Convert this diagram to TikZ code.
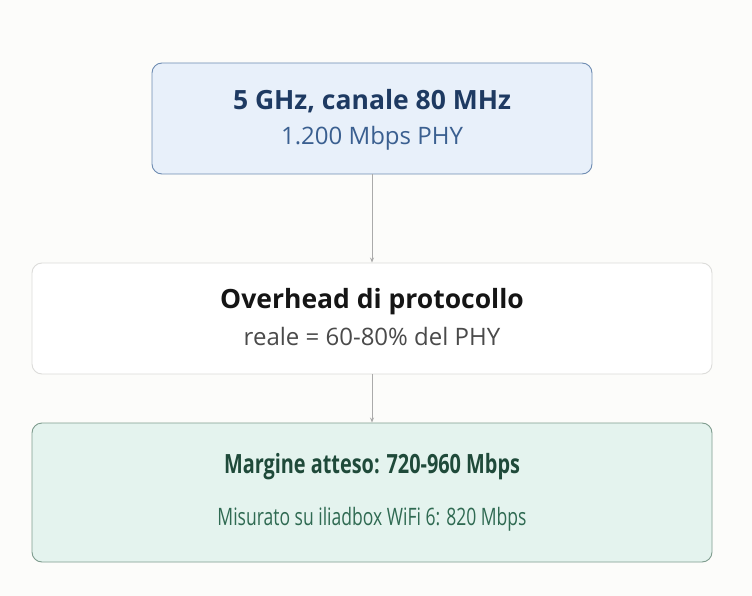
\documentclass[tikz,border=0pt]{standalone}
\usepackage{fontspec}
\setmainfont{Open Sans}
\newfontfamily\condfont[FakeStretch=0.75]{Open Sans}
\newfontfamily\condsubfont[FakeStretch=0.73]{Open Sans}
\usetikzlibrary{arrows.meta}
\definecolor{bg}{HTML}{FCFCFA}
\definecolor{bluefill}{HTML}{E8F0FA}
\definecolor{blueline}{HTML}{6E8CB2}
\definecolor{bluetitle}{HTML}{1E3A62}
\definecolor{bluesub}{HTML}{3A5F90}
\definecolor{grayline}{HTML}{DCDCDA}
\definecolor{graytitle}{HTML}{151515}
\definecolor{graysub}{HTML}{4A4A4A}
\definecolor{greenfill}{HTML}{E4F3EE}
\definecolor{greenline}{HTML}{7E9C8E}
\definecolor{greentitle}{HTML}{1F4A3A}
\definecolor{greensub}{HTML}{2F6A52}
\definecolor{arrowc}{HTML}{AAAAAA}
\tikzset{
  boxstyle/.style={draw, rounded corners=10pt, line width=0.9pt, inner sep=0pt},
  titletext/.style={font=\fontsize{26.5}{30}\selectfont\bfseries, inner sep=0pt, anchor=base},
  subtext/.style={font=\fontsize{24}{28}\selectfont, inner sep=0pt, anchor=base},
  condtitle/.style={font=\condfont\fontsize{26.5}{30}\selectfont\bfseries, inner sep=0pt, anchor=base},
  condsub/.style={font=\condsubfont\fontsize{24}{28}\selectfont, inner sep=0pt, anchor=base},
  conn/.style={draw=arrowc, line width=0.8pt, -{Stealth[length=5pt,width=4pt]}}
}
\begin{document}
\begin{tikzpicture}[x=1pt,y=-1pt]
\fill[bg] (0,0) rectangle (752,596);
\useasboundingbox (0,0) rectangle (752,596);
\node[boxstyle, draw=blueline, fill=bluefill, minimum width=440pt, minimum height=111pt] (b1) at (372,118.5) {};
\node[boxstyle, draw=grayline, fill=white, minimum width=680pt, minimum height=111pt] (b2) at (372,318.5) {};
\node[boxstyle, draw=greenline, fill=greenfill, minimum width=680pt, minimum height=139pt] (b3) at (372,492.5) {};
\node[titletext, text=bluetitle] (t1) at (372,110) {5 GHz, canale 80 MHz};
\node[subtext, text=bluesub] (s1) at (372,145) {1.200 Mbps PHY};
\node[titletext, text=graytitle] (t2) at (372,308) {Overhead di protocollo};
\node[subtext, text=graysub] (s2) at (372,345) {reale = 60-80\% del PHY};
\node[condtitle, text=greentitle] (t3) at (372,473) {Margine atteso: 720-960 Mbps};
\node[condsub, text=greensub] (s3) at (372,525) {Misurato su iliadbox WiFi 6: 820 Mbps};
\draw[conn] (b1.south) -- (b2.north);
\draw[conn] (b2.south) -- (b3.north);
\end{tikzpicture}
\end{document}
